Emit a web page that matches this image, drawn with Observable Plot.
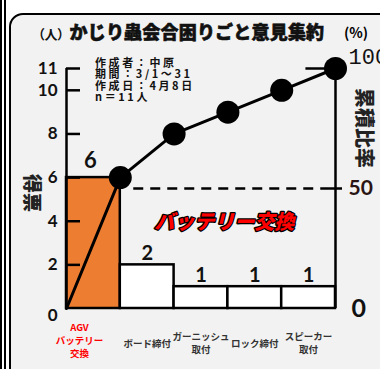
<!DOCTYPE html>
<html><head><meta charset="utf-8">
<script src="https://cdn.jsdelivr.net/npm/d3@7"></script>
<script src="https://cdn.jsdelivr.net/npm/@observablehq/plot@0.6"></script>
<style>
html,body{margin:0;padding:0;background:#fff;width:380px;height:369px;overflow:hidden;}
#wrap{position:relative;width:380px;height:369px;font-family:"Noto Sans CJK JP","Noto Sans",sans-serif;}
.vline{position:absolute;top:0;height:369px;width:2px;background:#000;}
#frame{position:absolute;left:9px;top:13px;width:420px;height:420px;border:2.5px solid #000;border-radius:14px;background:#f2f2f2;box-sizing:border-box;}
#title{position:absolute;left:32px;top:18px;white-space:nowrap;color:#111;}
#title .u{font-size:13px;font-weight:700;letter-spacing:-0.5px;}
#title .t{font-size:18px;font-weight:900;letter-spacing:0.2px;-webkit-text-stroke:0.6px #111;}
#pct{position:absolute;left:344px;top:22px;font-size:14px;font-weight:700;white-space:nowrap;}
#info{position:absolute;left:95px;top:57px;font-size:11px;font-weight:700;line-height:11.3px;letter-spacing:2.6px;color:#111;white-space:pre;}
.vt{position:absolute;writing-mode:vertical-rl;text-orientation:sideways;font-weight:900;color:#222;white-space:nowrap;}
#lt{left:20px;top:174px;font-size:19px;}
#rt{left:351px;top:88px;font-size:20px;}
#chart{position:absolute;left:0;top:0;}
</style></head>
<body>
<div id="wrap">
  <div class="vline" style="left:0px"></div>
  <div class="vline" style="left:4px"></div>
  <div id="frame"></div>
  <div id="title"><span class="u">（人）</span><span class="t">かじり蟲会合困りごと意見集約</span></div>
  <div id="pct">(%)</div>
  <div id="info"></div>
  <div class="vt" id="lt">得票</div>
  <div class="vt" id="rt">累積比率</div>
  <div id="chart"></div>
</div>
<script>
// ---- data ----
const categories = ["AGV\nバッテリー\n交換", "ボード締付", "ガーニッシュ\n取付", "ロック締付", "スピーカー\n取付"];
const votes = [6, 2, 1, 1, 1];
const totalN = 11;
const leftTicks = [0, 2, 4, 6, 8, 10, 11];
const rightTickLabels = ["0", "50", "100"];
const rightTickValues = [0, 50, 100];
const infoLines = ["作成者：中原", "期間：3/1～31", "作成日：4月8日", "n＝11人"];
const calloutText = "バッテリー交換";

document.getElementById("info").textContent = infoLines.join("\n");

const bars = votes.map((v, i) => ({i, v, cat: categories[i]}));
const cum = d3.cumsum(votes);
const linePts = [{x: 0, y: 0}, ...Array.from(cum, (c, i) => ({x: i + 1, y: c}))];
const pctToY = p => p / 100 * totalN;

const numFont = "Lato, 'Open Sans', sans-serif";
const jpFont = "'Noto Sans CJK JP', sans-serif";
const catStyle = {fontSize: 9.5, fontWeight: 700, lineHeight: 1.38, letterSpacing: -1, fontFamily: jpFont};

const chart = Plot.plot({
  width: 380, height: 369,
  marginLeft: 66, marginRight: 45, marginTop: 68, marginBottom: 61,
  x: {domain: [0, 5], axis: null},
  y: {domain: [0, 11], axis: null},
  style: {background: "transparent", overflow: "visible"},
  marks: [
    Plot.rect(bars, {x1: d => d.i, x2: d => d.i + 1, y1: 0, y2: d => d.v,
      fill: d => d.i === 0 ? "#ed7d31" : "#ffffff", stroke: "#000", strokeWidth: 2.5}),
    Plot.ruleX([0], {y1: 0, y2: 11, stroke: "#000", strokeWidth: 2.5}),
    Plot.ruleY(leftTicks.filter(t => t > 0), {y: d => d, x1: 0, x2: 0.26, stroke: "#000", strokeWidth: 2.5}),
    Plot.ruleX([5], {y1: 0, y2: pctToY(100), stroke: "#000", strokeWidth: 2.5}),
    Plot.ruleY([pctToY(50)], {x1: 4.87, x2: 5.13, stroke: "#000", strokeWidth: 2.5}),
    Plot.ruleY([pctToY(100)], {x1: 4.45, x2: 5, stroke: "#000", strokeWidth: 2.5}),
    Plot.ruleY([pctToY(50)], {x1: 1.25, x2: 4.87, stroke: "#000", strokeWidth: 2.5, strokeDasharray: "10,7"}),
    Plot.line(linePts, {x: "x", y: "y", stroke: "#000", strokeWidth: 3}),
    Plot.dot(linePts.slice(1), {x: "x", y: "y", r: 11.5, fill: "#000"}),
    // left tick labels
    Plot.text(leftTicks.filter(t => t > 0), {x: 0, y: d => d, dx: -9, text: d => String(d), textAnchor: "end",
      fontSize: 17, fontWeight: 700, fontFamily: numFont, fill: "#111"}),
    Plot.text([leftTicks[0]], {x: 0, y: d => d, dx: -9, dy: 7, text: d => String(d), textAnchor: "end",
      fontSize: 17, fontWeight: 700, fontFamily: numFont, fill: "#111"}),
    // right tick labels
    Plot.text([rightTickValues[0]], {x: 5, y: pctToY, text: [rightTickLabels[0]], textAnchor: "start",
      dx: 16, fontSize: 25, fontWeight: 700, fontFamily: numFont, fill: "#111"}),
    Plot.text([rightTickValues[1]], {x: 5, y: pctToY, text: [rightTickLabels[1]], textAnchor: "start",
      dx: 13, fontSize: 21, fontWeight: 700, fontFamily: numFont, fill: "#2a1414"}),
    Plot.text([rightTickValues[2]], {x: 5, y: pctToY, text: [rightTickLabels[2]], textAnchor: "start",
      dx: 13, dy: -12, fontSize: 22, fontWeight: 400, fontFamily: "'Liberation Mono', monospace", fill: "#111"}),
    // value labels
    Plot.text(bars.slice(0, 1), {x: d => d.i + 0.5, y: "v", text: d => String(d.v), dy: -17, dx: -3,
      fontSize: 22, fontWeight: 700, fontFamily: numFont, fill: "#111"}),
    Plot.text(bars.slice(1), {x: d => d.i + 0.5, y: "v", text: d => String(d.v), dy: -11,
      fontSize: 20, fontWeight: 700, fontFamily: numFont, fill: "#111"}),
    // category labels
    Plot.text(bars.slice(0, 1), {x: d => d.i + 0.5, y: 0, text: "cat", dy: 31, dx: -14, ...catStyle, fill: "#ff0000"}),
    Plot.text(bars.slice(1), {x: d => d.i + 0.5, y: 0, text: "cat", dy: 34, ...catStyle, fill: "#333"}),
    // callout
    Plot.text([calloutText], {x: 2.93, y: 3.95, text: d => d, fontSize: 20, fontWeight: 900, fontStyle: "italic",
      fontFamily: jpFont, fill: "#ff0000", stroke: "#000", strokeWidth: 2.5, paintOrder: "stroke"})
  ]
});
document.getElementById("chart").appendChild(chart);
</script>
</body></html>
